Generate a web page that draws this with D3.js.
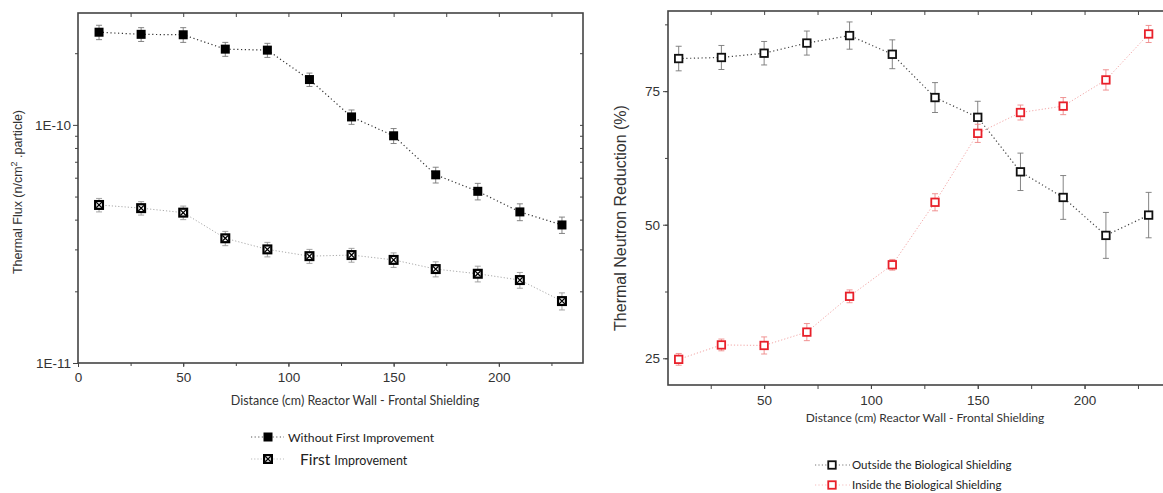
<!DOCTYPE html>
<html><head><meta charset="utf-8">
<script src="https://cdn.jsdelivr.net/npm/d3@7"></script>
<style>
body{margin:0;background:#fff;}
svg{display:block;}
.axis path,.axis line{stroke:#444;}
</style></head>
<body><svg id="c" width="1163" height="493"></svg>
<script>
// ---------- data ----------
const distances = [10,30,50,70,90,110,130,150,170,190,210,230];
const fluxWithout = [2.45e-10,2.40e-10,2.39e-10,2.08e-10,2.06e-10,1.55e-10,1.08e-10,9.0e-11,6.17e-11,5.26e-11,4.31e-11,3.80e-11];
const fluxWithoutErr = [0.17e-10,0.16e-10,0.17e-10,0.14e-10,0.14e-10,0.10e-10,0.075e-10,0.065e-10,0.047e-10,0.042e-10,0.035e-10,0.030e-10];
const fluxFirst = [4.61e-11,4.47e-11,4.28e-11,3.34e-11,3.00e-11,2.81e-11,2.84e-11,2.71e-11,2.48e-11,2.37e-11,2.23e-11,1.82e-11];
const fluxFirstErr = [0.30e-11,0.29e-11,0.28e-11,0.23e-11,0.21e-11,0.19e-11,0.19e-11,0.19e-11,0.18e-11,0.18e-11,0.17e-11,0.15e-11];
const reductionOutside = [81.1,81.3,82.1,84.0,85.4,81.9,73.8,70.1,59.9,55.1,48.0,51.8];
const reductionOutsideErr = [2.3,2.25,2.2,2.25,2.55,2.7,2.8,3.0,3.5,4.1,4.3,4.25];
const reductionInside = [24.8,27.5,27.4,29.9,36.6,42.5,54.2,67.1,71.0,72.2,77.1,85.7];
const reductionInsideErr = [1.1,1.1,1.6,1.6,1.2,1.0,1.6,1.7,1.4,1.6,1.9,1.6];
const leftXTicks = [0,50,100,150,200];
const leftYTicks = [1e-11,1e-10];
const rightXTicks = [50,100,150,200];
const rightYTicks = [25,50,75];
const leftLegend = ["Without First Improvement","First Improvement"];
const rightLegend = ["Outside the Biological Shielding","Inside the Biological Shielding"];

const svg = d3.select("#c");
const tickFont = "'Liberation Sans', Arial, sans-serif";
const narrowFont = "'Liberation Sans Narrow', 'Liberation Sans', Arial, sans-serif";
const labFont = "Lato, 'Open Sans', sans-serif";

// ---------- marker helpers ----------
function filledSquare(g, x, y, s){
  g.append("rect").attr("x",x-s/2).attr("y",y-s/2).attr("width",s).attr("height",s).attr("fill","#000");
}
function xSquare(g, x, y, s){
  g.append("rect").attr("x",x-s/2).attr("y",y-s/2).attr("width",s).attr("height",s).attr("fill","#000");
  const i = s/2-2.2;
  g.append("rect").attr("x",x-i).attr("y",y-i).attr("width",2*i).attr("height",2*i).attr("fill","#fff");
  g.append("path").attr("d",`M${x-i},${y-i}L${x+i},${y+i}M${x+i},${y-i}L${x-i},${y+i}`).attr("stroke","#000").attr("stroke-width",1.3);
}
function openSquare(g, x, y, s, col){
  g.append("rect").attr("x",x-s/2).attr("y",y-s/2).attr("width",s).attr("height",s).attr("fill","#fff").attr("stroke",col).attr("stroke-width",1.8);
}
function errBars(g, xsc, ysc, xsArr, vals, errs, col){
  xsArr.forEach((d,i)=>{
    const x = xsc(d), y1 = ysc(vals[i]-errs[i]), y2 = ysc(vals[i]+errs[i]);
    g.append("path").attr("d",`M${x},${y1}L${x},${y2}M${x-3},${y1}L${x+3},${y1}M${x-3},${y2}L${x+3},${y2}`)
      .attr("stroke",col).attr("stroke-width",0.9).attr("fill","none");
  });
}

// ---------- LEFT CHART ----------
{
  const L=78,R=583,T=13,B=363;
  const x = d3.scaleLinear().domain([0,240]).range([L,R]);
  const y = d3.scaleLog().domain([1e-11,2.95e-10]).range([B,T]);
  const minorX = d3.range(0,241,25);
  const minorY = [2,3,4,5,6,7,8,9].map(v=>v*1e-11).concat([2e-10]);
  const g = svg.append("g");

  g.append("g").attr("class","axis").attr("transform",`translate(0,${B})`)
    .call(d3.axisBottom(x).tickValues(minorX).tickSize(3).tickFormat("")).select(".domain").remove();
  g.append("g").attr("class","axis").attr("transform",`translate(0,${T})`)
    .call(d3.axisBottom(x).tickValues(minorX.filter(v=>v>0)).tickSize(4).tickFormat("")).select(".domain").remove();
  g.append("g").attr("class","axis").attr("transform",`translate(${L},0)`)
    .call(d3.axisLeft(y).tickValues(minorY).tickSize(3).tickFormat("")).select(".domain").remove();
  g.append("g").attr("class","axis").attr("transform",`translate(${R},0)`)
    .call(d3.axisLeft(y).tickValues(minorY.concat([1e-10])).tickSize(3).tickFormat("")).select(".domain").remove();
  const xa = g.append("g").attr("class","axis").attr("transform",`translate(0,${B})`)
    .call(d3.axisBottom(x).tickValues(leftXTicks).tickSize(4).tickPadding(5).tickFormat(d3.format("d")));
  const ya = g.append("g").attr("class","axis").attr("transform",`translate(${L},0)`)
    .call(d3.axisLeft(y).tickValues(leftYTicks).tickSize(5).tickPadding(2).tickFormat(d=>d>=1e-10?"1E-10":"1E-11"));
  [xa,ya].forEach(a=>{a.selectAll("text").attr("font-family",narrowFont).attr("font-size",13.5).attr("fill","#333");
    a.select(".domain").remove();});
  g.append("rect").attr("x",L).attr("y",T).attr("width",R-L).attr("height",B-T).attr("fill","none").attr("stroke","#444").attr("stroke-width",1.6);

  const line = d3.line().x((d,i)=>x(distances[i])).y(d=>y(d));
  g.append("path").datum(fluxFirst).attr("d",line).attr("fill","none").attr("stroke","#aaa").attr("stroke-width",1).attr("stroke-dasharray","1.2,2");
  g.append("path").datum(fluxWithout).attr("d",line).attr("fill","none").attr("stroke","#333").attr("stroke-width",1.2).attr("stroke-dasharray","1.2,2.6");
  errBars(g,x,y,distances,fluxWithout,fluxWithoutErr,"#777");
  errBars(g,x,y,distances,fluxFirst,fluxFirstErr,"#999");
  distances.forEach((d,i)=>filledSquare(g,x(d),y(fluxWithout[i]),9));
  distances.forEach((d,i)=>xSquare(g,x(d),y(fluxFirst[i]),10));

  g.append("text").attr("x",355).attr("y",405).attr("text-anchor","middle")
    .attr("font-family",labFont).attr("font-size",12.5).attr("fill","#333")
    .text("Distance (cm) Reactor Wall - Frontal Shielding");
  const yl = g.append("text").attr("transform","translate(22,192) rotate(-90)").attr("text-anchor","middle")
    .attr("font-family",narrowFont).attr("font-size",12.5).attr("fill","#333");
  yl.append("tspan").text("Thermal Flux (n/cm");
  yl.append("tspan").attr("dy",-5).attr("font-size",9).text("2");
  yl.append("tspan").attr("dy",5).text(" .particle)");

  const lg = g.append("g");
  lg.append("line").attr("x1",251).attr("x2",284).attr("y1",437).attr("y2",437).attr("stroke","#555").attr("stroke-dasharray","1.2,2.4");
  filledSquare(lg,268,437,9);
  lg.append("text").attr("x",288).attr("y",441.5).attr("font-family",labFont).attr("font-size",12.2).attr("fill","#222").text(leftLegend[0]);
  lg.append("line").attr("x1",251).attr("x2",284).attr("y1",459).attr("y2",459).attr("stroke","#bbb").attr("stroke-dasharray","1.2,2");
  xSquare(lg,268,459,10);
  const t2 = lg.append("text").attr("x",300).attr("y",464.5).attr("font-family",labFont).attr("fill","#222");
  const parts = leftLegend[1].split(" ");
  t2.append("tspan").attr("font-size",15.5).text(parts[0]+" ");
  t2.append("tspan").attr("font-size",12.5).text(parts[1]);
}

// ---------- RIGHT CHART ----------
{
  const L=668,R=1170,T=11,B=385;
  const x = d3.scaleLinear().domain([5,240]).range([L,R]);
  const y = d3.scaleLinear().domain([20,90]).range([B,T]);
  const minorX = d3.range(25,241,25);
  const minorY = d3.range(25,90,12.5);
  const g = svg.append("g");
  g.append("g").attr("class","axis").attr("transform",`translate(0,${B})`)
    .call(d3.axisBottom(x).tickValues(minorX).tickSize(4).tickFormat("")).select(".domain").remove();
  g.append("g").attr("class","axis").attr("transform",`translate(0,${T})`)
    .call(d3.axisBottom(x).tickValues(minorX).tickSize(4).tickFormat("")).select(".domain").remove();
  g.append("g").attr("class","axis").attr("transform",`translate(${L},0)`)
    .call(d3.axisLeft(y).tickValues(minorY).tickSize(3).tickFormat("")).select(".domain").remove();
  const xa = g.append("g").attr("class","axis").attr("transform",`translate(0,${B})`)
    .call(d3.axisBottom(x).tickValues(rightXTicks).tickSize(4).tickPadding(6).tickFormat(d3.format("d")));
  const ya = g.append("g").attr("class","axis").attr("transform",`translate(${L},0)`)
    .call(d3.axisLeft(y).tickValues(rightYTicks).tickSize(5).tickPadding(3).tickFormat(d3.format("d")));
  [xa,ya].forEach(a=>{a.selectAll("text").attr("font-family",narrowFont).attr("font-size",13.5).attr("fill","#333");
    a.select(".domain").remove();});
  g.append("rect").attr("x",L).attr("y",T).attr("width",R-L).attr("height",B-T).attr("fill","none").attr("stroke","#444").attr("stroke-width",1.6);

  const line = d3.line().x((d,i)=>x(distances[i])).y(d=>y(d));
  g.append("path").datum(reductionInside).attr("d",line).attr("fill","none").attr("stroke","#f3a6a6").attr("stroke-width",1).attr("stroke-dasharray","1.2,2");
  g.append("path").datum(reductionOutside).attr("d",line).attr("fill","none").attr("stroke","#444").attr("stroke-width",1.2).attr("stroke-dasharray","1.2,2.6");
  errBars(g,x,y,distances,reductionOutside,reductionOutsideErr,"#777");
  errBars(g,x,y,distances,reductionInside,reductionInsideErr,"#e88");
  distances.forEach((d,i)=>openSquare(g,x(d),y(reductionOutside[i]),7.5,"#111"));
  distances.forEach((d,i)=>openSquare(g,x(d),y(reductionInside[i]),7.5,"#e8202a"));

  g.append("text").attr("x",925).attr("y",422).attr("text-anchor","middle")
    .attr("font-family",labFont).attr("font-size",12).attr("fill","#333")
    .text("Distance (cm) Reactor Wall - Frontal Shielding");
  g.append("text").attr("transform","translate(626,218) rotate(-90)").attr("text-anchor","middle")
    .attr("font-family",tickFont).attr("font-size",16).attr("fill","#333")
    .text("Thermal Neutron Reduction (%)");

  const lg = g.append("g");
  lg.append("line").attr("x1",815).attr("x2",850).attr("y1",465).attr("y2",465).attr("stroke","#777").attr("stroke-dasharray","1.2,2.2");
  openSquare(lg,832,465,7.5,"#111");
  lg.append("text").attr("x",852).attr("y",469).attr("font-family",labFont).attr("font-size",11.5).attr("fill","#222").text(rightLegend[0]);
  lg.append("line").attr("x1",815).attr("x2",850).attr("y1",485).attr("y2",485).attr("stroke","#f5bcbc").attr("stroke-dasharray","1.2,2.2");
  openSquare(lg,832,485,7.5,"#e8202a");
  lg.append("text").attr("x",852).attr("y",489).attr("font-family",labFont).attr("font-size",11.5).attr("fill","#222").text(rightLegend[1]);
}
</script></body></html>
